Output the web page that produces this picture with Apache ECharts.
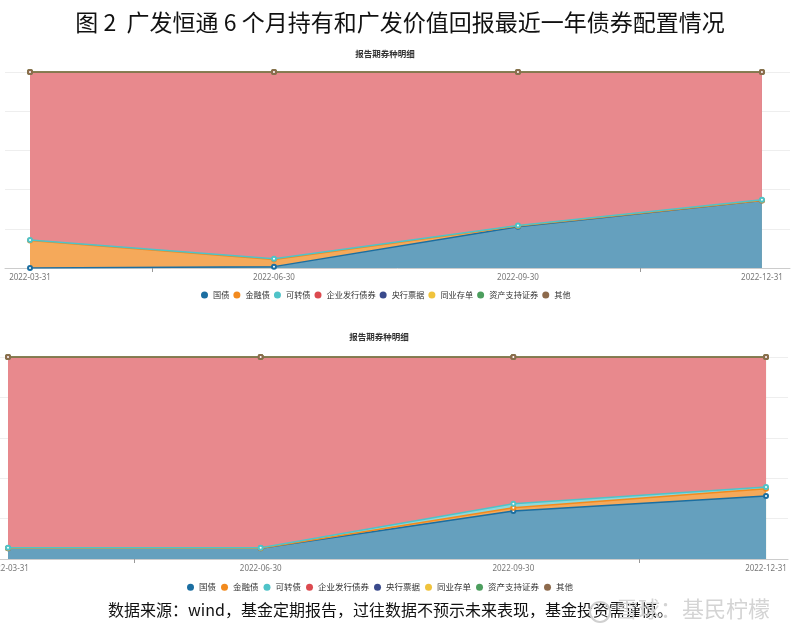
<!DOCTYPE html>
<html><head><meta charset="utf-8">
<script src="https://cdn.jsdelivr.net/npm/echarts@6/dist/echarts.min.js"></script>
<style>html,body{margin:0;padding:0;background:#fff}#c{width:800px;height:638px}</style>
</head><body><div id="c"></div>
<script>
var dates = ['2022-03-31','2022-06-30','2022-09-30','2022-12-31'];
var seriesNames = ['国债','金融债','可转债','企业发行债券','央行票据','同业存单','资产支持证券','其他'];
// chart 1 (top), percent of bond holdings
var top_guozhai   = [0, 0.7, 21.0, 34.5];
var top_jinrong   = [14.0, 3.6, 0.4, 0.0];
var top_kezhuan   = [0.3, 0.4, 0.3, 0.3];
var top_qiye      = [85.7, 95.3, 78.3, 65.2];
var top_yanghang  = [0, 0, 0, 0];
var top_tongye    = [0, 0, 0, 0];
var top_zichan    = [0, 0, 0, 0];
var top_qita      = [0, 0, 0, 0];
// chart 2 (bottom)
var bot_guozhai   = [5.3, 5.3, 23.8, 31.2];
var bot_jinrong   = [0.0, 0.0, 1.6, 3.6];
var bot_kezhuan   = [0.3, 0.3, 1.9, 0.8];
var bot_qiye      = [94.4, 94.4, 72.7, 64.4];
var bot_yanghang  = [0, 0, 0, 0];
var bot_tongye    = [0, 0, 0, 0];
var bot_zichan    = [0, 0, 0, 0];
var bot_qita      = [0, 0, 0, 0];

var lineColors = ['#1b6ea1','#f28a1e','#4fc3c8','#dc4a4f','#3a4a8c','#f0c33c','#4c9e5e','#8d6a4c'];
// area fills (series colour at ~65% over white)
var areaColors = ['#65a0be','#f5a95a','#8dd8db','#e8898d','#8389b2','#f5d881','#8bc097','#b29c89'];

var topData = [top_guozhai, top_jinrong, top_kezhuan, top_qiye, top_yanghang, top_tongye, top_zichan, top_qita];
var botData = [bot_guozhai, bot_jinrong, bot_kezhuan, bot_qiye, bot_yanghang, bot_tongye, bot_zichan, bot_qita];

function cumulate(dataSets){
  var acc = [0,0,0,0], out = [];
  dataSets.forEach(function(d){
    acc = acc.map(function(a,i){ return a + d[i]; });
    out.push(acc.slice());
  });
  return out;
}
function toXY(arr){ return arr.map(function(v,i){ return [i, v]; }); }

function makeSeries(dataSets, axisIdx, tag){
  var cum = cumulate(dataSets);
  var areas = cum.map(function(c, k){
    return {
      name: '_area' + tag + k, type: 'line', xAxisIndex: axisIdx, yAxisIndex: axisIdx,
      data: toXY(c), showSymbol: false, symbol: 'none', z: 1, zlevel: 0,
      lineStyle: {width: 0, color: areaColors[k]},
      areaStyle: {color: areaColors[k], opacity: 1},
      silent: true, emphasis: {disabled: true}
    };
  }).reverse();
  var lines = cum.map(function(c, k){
    return {
      name: seriesNames[k], type: 'line', xAxisIndex: axisIdx, yAxisIndex: axisIdx,
      data: toXY(c), symbol: 'emptyCircle', symbolSize: 4, z: 3 + k,
      lineStyle: {width: 1.5, color: lineColors[k]},
      itemStyle: {color: lineColors[k], borderWidth: 1},
      emphasis: {disabled: true}
    };
  });
  return areas.concat(lines);
}

function xAxisCfg(gi, mn, mx){
  return {
    type: 'value', gridIndex: gi, min: mn, max: mx,
    axisLine: {show: true, lineStyle: {color: '#cccccc'}},
    axisTick: {show: true, customValues: [0.5, 2.5], length: 4, lineStyle: {color: '#999'}},
    splitLine: {show: false},
    axisLabel: {customValues: [0,1,2,3], fontSize: 8, color: '#777', margin: 6,
      alignMinLabel: 'center', alignMaxLabel: 'center', hideOverlap: false,
      fontFamily: 'Noto Sans', formatter: function(v){ return dates[Math.round(v)]; }}
  };
}
function yAxisCfg(gi){
  return {
    type: 'value', gridIndex: gi, min: 0, max: 100, interval: 20,
    axisLine: {show: false}, axisTick: {show: false}, axisLabel: {show: false},
    splitLine: {show: true, lineStyle: {color: '#eeeeee', width: 1}}
  };
}

var chart = echarts.init(document.getElementById('c'), null, {renderer: 'canvas'});
chart.setOption({
  animation: false,
  backgroundColor: '#ffffff',
  color: lineColors,
  title: [
    {text: '图 2  广发恒通 6 个月持有和广发价值回报最近一年债券配置情况', left: 'center', top: 6,
      textStyle: {fontFamily: 'Noto Sans CJK SC', fontSize: 23, fontWeight: 'normal', color: '#111'}},
    {text: '报告期券种明细', left: 380, top: 45, textAlign: 'center',
      textStyle: {fontFamily: 'Noto Sans CJK SC', fontSize: 8.5, fontWeight: 'bold', color: '#333'}},
    {text: '报告期券种明细', left: 374, top: 328, textAlign: 'center',
      textStyle: {fontFamily: 'Noto Sans CJK SC', fontSize: 8.5, fontWeight: 'bold', color: '#333'}}
  ],
  legend: [
    {data: seriesNames, top: 286, left: 196, icon: 'circle', itemWidth: 7, itemHeight: 7, itemGap: 4,
      textStyle: {fontSize: 8.2, color: '#333', fontFamily: 'Noto Sans CJK SC'}, selectedMode: false},
    {data: seriesNames, top: 578, left: 182, icon: 'circle', itemWidth: 7, itemHeight: 7, itemGap: 5,
      textStyle: {fontSize: 8.5, color: '#333', fontFamily: 'Noto Sans CJK SC'}, selectedMode: false}
  ],
  grid: [
    {left: 5, right: 10, top: 72, height: 196, outerBoundsMode: 'none', containLabel: false},
    {left: 0, right: 12, top: 357, height: 202, outerBoundsMode: 'none', containLabel: false}
  ],
  xAxis: [xAxisCfg(0, -0.1025, 3.115), xAxisCfg(1, -0.0317, 3.087)],
  yAxis: [yAxisCfg(0), yAxisCfg(1)],
  series: makeSeries(topData, 0, 't').concat(makeSeries(botData, 1, 'b')),
  graphic: [
    {type: 'text', left: 108, top: 602, style: {text: '数据来源：wind，基金定期报告，过往数据不预示未来表现，基金投资需谨慎。',
      font: '16px "Noto Sans CJK SC"', fill: '#111'}, z: 5},
    {type: 'circle', shape: {cx: 600, cy: 612, r: 10}, style: {fill: 'none', stroke: '#d0d0d0', lineWidth: 2}, z: 10},
    {type: 'text', left: 616, top: 598, style: {text: '雪球：基民柠檬', font: '22px "Noto Sans CJK SC"', fill: '#d4d4d4'}, z: 10}
  ]
});
</script></body></html>
